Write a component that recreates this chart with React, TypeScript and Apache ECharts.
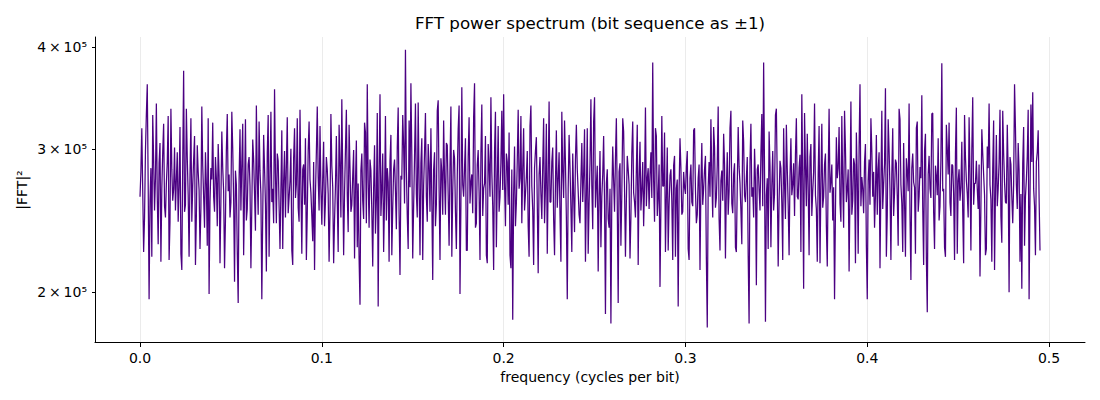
import React, { useEffect, useRef } from "react";
import * as echarts from "echarts";

const TITLE = "FFT power spectrum (bit sequence as ±1)";
const X_LABEL = "frequency (cycles per bit)";
const Y_LABEL = "|FFT|²";

// frequency spacing between consecutive spectrum bins (cycles per bit)
const FREQ_STEP = 0.0005;

// |FFT|² in thousands, even bins (f = 0, 0.001, ..., 0.495)
const POWER_K_EVEN = [
  262, 318, 224, 298, 360, 196, 284, 330, 252, 341, 229, 305, 268, 322, 247, 289, 219, 336, 259, 301,
  275, 244, 319, 213, 374, 256, 292, 221, 327, 270, 311, 248, 281, 226, 338, 262, 297, 228, 199, 284,
  323, 251, 276, 304, 217, 315, 266, 245, 331, 279, 258, 300, 206, 271, 194, 317, 288, 222, 326, 253,
  293, 214, 308, 264, 339, 249, 282, 196, 312, 257, 296, 221, 333, 268, 355, 243, 290, 226, 316, 274,
  247, 328, 261, 300, 216, 318, 271, 254, 335, 223, 287, 309, 250, 324, 265, 231, 213, 297, 277, 320,
  242, 306, 258, 283, 218, 331, 269, 245, 311, 224, 289, 345, 222, 299, 263, 321, 251, 278, 220, 307,
  272, 193, 296, 246, 314, 360, 240, 282, 215, 303, 259, 192, 350, 267, 224, 329, 284, 218, 312, 254,
  291, 239, 337, 210, 275, 302, 397, 248, 325, 361, 220, 293, 264, 342, 222, 309, 270, 332, 244, 286,
  318, 207, 297, 256, 344, 219, 281, 325, 249, 303, 228, 338, 266, 292, 226, 317, 199, 357, 262, 309,
  225, 328, 273, 250, 361, 243, 299, 219, 340, 268, 311, 217, 286, 347, 255, 297, 227, 320, 262, 334,
  350, 241, 289, 314, 214, 185, 302, 257, 335, 276, 243, 318, 264, 298, 221, 339, 252, 284, 310, 211,
  293, 246, 327, 269, 223, 343, 258, 301, 222, 316, 275, 249, 333, 261, 288, 196, 312, 254, 296, 237,
  321, 266, 243, 305, 279, 218, 318, 257, 345, 239, 347, 271, 212, 298, 262, 311, 188, 283, 240, 183,
  302, 251, 327, 194, 288, 264, 315, 221, 294, 271, 247, 324, 258, 283, 216, 306, 267, 241, 337, 276,
  253, 297, 383, 244, 311, 262, 203, 329, 270, 224, 301, 256, 283, 219, 294, 268, 192, 309, 249, 281,
  264, 298, 219, 287, 255, 318, 243, 276, 213, 305, 268, 294, 181, 289, 326, 247, 301, 261, 338, 225,
  282, 313, 220, 297, 266, 334, 250, 288, 224, 319, 272, 229, 306, 258, 293, 183, 322, 269, 300, 204,
  287, 252, 331, 383, 184, 276, 315, 227, 298, 264, 336, 215, 290, 257, 318, 246, 283, 222, 309, 271,
  248, 327, 260, 295, 350, 202, 286, 313, 222, 304, 266, 341, 253, 279, 217, 322, 262, 296, 215, 336,
  273, 245, 196, 310, 284, 257, 329, 240, 300, 268, 212, 343, 259, 287, 314, 223, 360, 277, 250, 304,
  196, 291, 327, 262, 240, 312, 283, 214, 334, 271, 356, 249, 299, 219, 318, 265, 288, 228, 326, 257,
  305, 221, 281, 341, 207, 296, 269, 318, 251, 285, 349, 216, 313, 189, 294, 261, 332, 226, 278, 309,
  255, 382, 268, 221, 300, 323, 248, 286, 219, 337, 274, 259, 306, 217, 293, 264, 328, 225, 347, 272,
  290, 253, 209, 317, 279, 222, 302, 341, 260, 284, 213, 312, 268, 335, 230, 296, 258, 321, 200, 287,
  243, 360, 271, 305, 218, 202, 319, 262, 294, 196, 340, 352, 255, 289, 316, 225,
];

// |FFT|² in thousands, odd bins (f = 0.0005, 0.0015, ..., 0.4945)
const POWER_K_ODD = [
  281, 266, 247, 331, 271, 259, 221, 291, 276, 262, 288, 218, 297, 255, 272, 329, 244, 283, 268, 252,
  297, 270, 223, 289, 251, 336, 263, 279, 244, 291, 216, 303, 267, 254, 286, 240, 271, 327, 258, 275,
  262, 293, 241, 278, 259, 284, 214, 299, 266, 247, 333, 260, 282, 224, 275, 252, 322, 263, 245, 287,
  270, 255, 291, 238, 276, 324, 264, 249, 284, 212, 330, 273, 258, 243, 280, 296, 255, 267, 226, 298,
  285, 250, 274, 225, 292, 261, 327, 244, 270, 283, 256, 219, 298, 275, 248, 289, 263, 338, 252, 268,
  276, 241, 293, 264, 251, 286, 217, 270, 258, 321, 247, 279, 265, 335, 237, 284, 256, 299, 271, 227,
  220, 282, 259, 323, 243, 275, 291, 252, 268, 236, 332, 279, 248, 296, 261, 245, 273, 290, 222, 283,
  266, 301, 249, 278, 330, 257, 283, 226, 269, 294, 255, 341, 247, 273, 288, 219, 297, 262, 304, 251,
  259, 283, 241, 334, 268, 292, 249, 276, 305, 263, 287, 221, 299, 251, 278, 339, 256, 271, 284, 225,
  293, 257, 279, 328, 240, 287, 265, 296, 248, 272, 222, 304, 262, 281, 213, 333, 274, 251, 289, 267,
  272, 296, 256, 222, 283, 263, 241, 290, 268, 329, 284, 252, 277, 241, 320, 270, 216, 298, 257, 279,
  264, 286, 243, 322, 275, 258, 289, 246, 272, 254, 297, 218, 281, 325, 247, 268, 285, 224, 263, 291,
  283, 249, 274, 258, 317, 263, 223, 288, 270, 324, 254, 286, 262, 227, 279, 257, 272, 246, 268, 262,
  274, 292, 256, 281, 228, 327, 268, 259, 283, 220, 296, 265, 247, 321, 276, 252, 289, 271, 255, 284,
  279, 261, 274, 318, 248, 287, 255, 270, 314, 262, 225, 278, 259, 286, 221, 275, 266, 284, 251, 269,
  285, 226, 276, 258, 316, 267, 249, 287, 271, 256, 283, 220, 269, 262, 278, 319, 254, 287, 246, 274,
  259, 287, 268, 249, 318, 257, 279, 227, 271, 285, 252, 325, 263, 276, 222, 289, 262, 247, 274, 283,
  267, 296, 255, 281, 263, 226, 286, 270, 252, 330, 273, 259, 284, 219, 271, 321, 256, 278, 263, 288,
  295, 262, 284, 224, 277, 332, 255, 269, 293, 248, 281, 263, 218, 320, 272, 254, 287, 241, 278, 265,
  287, 269, 251, 276, 319, 244, 272, 334, 258, 283, 265, 249, 292, 217, 277, 301, 255, 268, 289, 228,
  274, 256, 298, 281, 263, 249, 297, 270, 253, 288, 221, 326, 267, 279, 248, 291, 262, 336, 271, 224,
  258, 292, 266, 249, 284, 273, 223, 324, 262, 276, 254, 298, 220, 279, 268, 331, 251, 286, 263, 245,
  291, 266, 227, 321, 279, 258, 287, 264, 296, 223, 283, 269, 251, 330, 274, 247, 281, 299, 256, 272,
  268, 287, 254, 296, 263, 226, 284, 271, 218, 325, 266, 255, 289, 248, 334, 273, 257, 280, 293, 262,
  271, 318, 253, 282, 264, 288, 228, 275, 335, 262, 289, 268, 222, 297, 261,
];

const X_TICKS = [0, 0.1, 0.2, 0.3, 0.4, 0.5];
const X_TICK_LABELS = ["0.0", "0.1", "0.2", "0.3", "0.4", "0.5"];
const Y_TICKS = [200000, 300000, 400000];
const Y_TICK_LABELS = ["2\u2009×\u200910⁵", "3\u2009×\u200910⁵", "4\u2009×\u200910⁵"];
const X_RANGE = [-0.02475, 0.51975];
const Y_RANGE = [173700, 411500];

const FONT = "DejaVu Sans";

export default function App() {
  const ref = useRef<HTMLDivElement>(null);

  useEffect(() => {
    if (!ref.current) return;
    const chart = echarts.init(ref.current, null, { renderer: "svg" });
    const lg = (v: number) => Math.log10(v);
    const data: number[][] = [];
    const total = POWER_K_EVEN.length + POWER_K_ODD.length;
    for (let j = 0; j < total; j++) {
      const p = j % 2 === 0 ? POWER_K_EVEN[j / 2] : POWER_K_ODD[(j - 1) / 2];
      data.push([j * FREQ_STEP, lg(p * 1000)]);
    }
    const yTickLogs = Y_TICKS.map(lg);

    chart.setOption({
      animation: false,
      backgroundColor: "#ffffff",
      grid: { left: 95, right: 15, top: 37, bottom: 58, containLabel: false },
      xAxis: {
        type: "value",
        min: X_RANGE[0],
        max: X_RANGE[1],
        axisLine: { show: true, onZero: false, lineStyle: { color: "#000", width: 1 } },
        axisTick: { show: true, length: 5, customValues: X_TICKS, lineStyle: { color: "#000", width: 1 } },
        axisLabel: {
          customValues: X_TICKS,
          formatter: (v: number) => {
            const i = X_TICKS.findIndex((t) => Math.abs(t - v) < 1e-9);
            return i >= 0 ? X_TICK_LABELS[i] : "";
          },
          color: "#000",
          fontSize: 14,
          fontFamily: FONT,
          margin: 9,
        },
        splitLine: { show: true, lineStyle: { color: "#ebebeb", width: 1 } },
      },
      yAxis: {
        type: "value",
        min: lg(Y_RANGE[0]),
        max: lg(Y_RANGE[1]),
        axisLine: { show: true, onZero: false, lineStyle: { color: "#000", width: 1 } },
        axisTick: { show: true, length: 3, customValues: yTickLogs, lineStyle: { color: "#000", width: 1 } },
        axisLabel: {
          customValues: yTickLogs,
          formatter: (v: number) => {
            const i = yTickLogs.findIndex((t) => Math.abs(t - v) < 1e-6);
            return i >= 0 ? Y_TICK_LABELS[i] : "";
          },
          color: "#000",
          fontSize: 14,
          fontFamily: FONT,
          margin: 8,
        },
        splitLine: { show: false },
      },
      series: [
        {
          type: "line",
          data,
          showSymbol: false,
          symbol: "none",
          lineStyle: { color: "#4b0082", width: 1.25 },
          z: 3,
        },
      ],
      graphic: [
        {
          type: "text",
          x: 590,
          y: 23,
          style: {
            text: TITLE,
            fontSize: 16.7,
            fontFamily: FONT,
            fill: "#000",
            align: "center",
            verticalAlign: "middle",
            textAlign: "center",
            textVerticalAlign: "middle",
          },
        },
        {
          type: "text",
          x: 590,
          y: 377,
          style: {
            text: X_LABEL,
            fontSize: 14,
            fontFamily: FONT,
            fill: "#000",
            align: "center",
            verticalAlign: "middle",
            textAlign: "center",
            textVerticalAlign: "middle",
          },
        },
        {
          type: "text",
          x: 22,
          y: 190,
          rotation: Math.PI / 2,
          style: {
            text: Y_LABEL,
            fontSize: 14,
            fontFamily: FONT,
            fill: "#000",
            align: "center",
            verticalAlign: "middle",
            textAlign: "center",
            textVerticalAlign: "middle",
          },
        },
      ],
    });

    return () => chart.dispose();
  }, []);

  return (
    <div
      ref={ref}
      style={{ position: "absolute", left: 0, top: 0, width: 1100, height: 400 }}
    />
  );
}
